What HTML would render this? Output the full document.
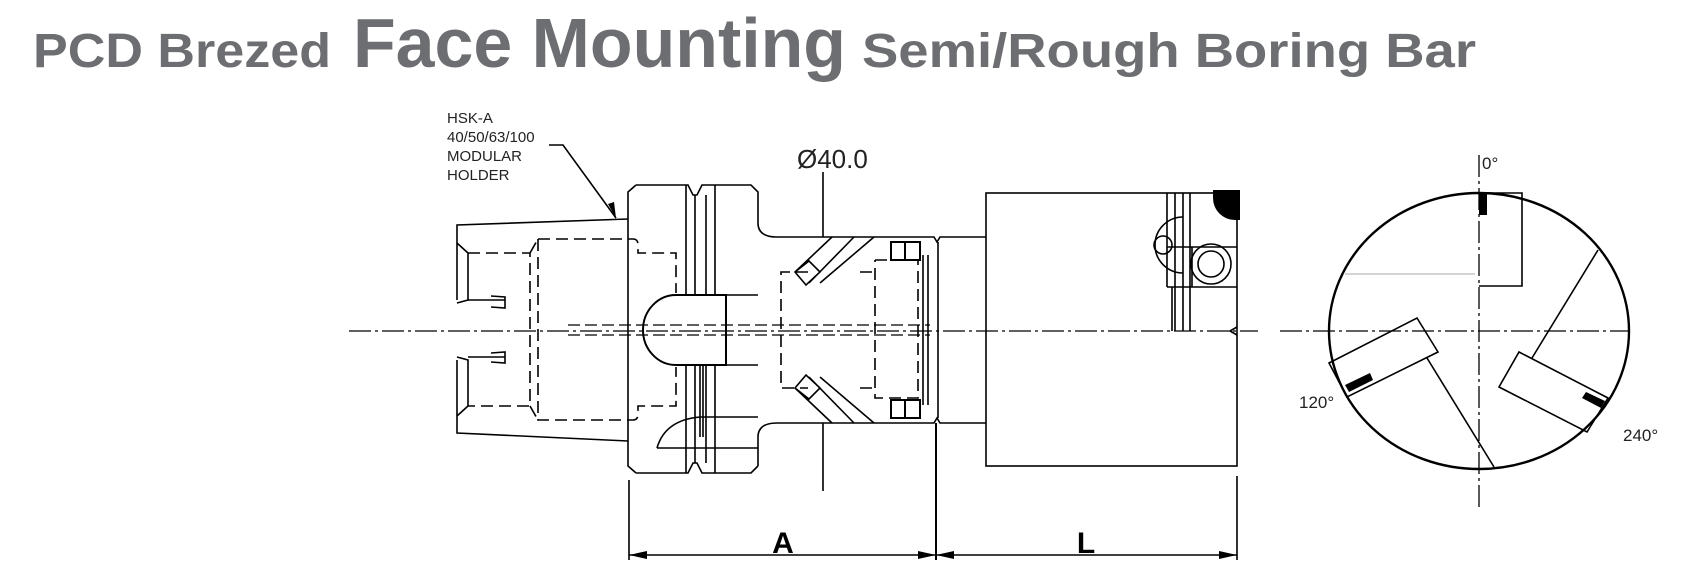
<!DOCTYPE html>
<html><head><meta charset="utf-8"><style>
html,body{margin:0;padding:0;background:#fff;}
svg{display:block;}
</style></head><body>
<svg width="1701" height="577" viewBox="0 0 1701 577" xmlns="http://www.w3.org/2000/svg">
<g font-family="'Liberation Sans', sans-serif" font-weight="bold" fill="#6d6e71">
<text x="33" y="67" font-size="48" textLength="298" lengthAdjust="spacingAndGlyphs">PCD Brezed</text>
<text x="353" y="67" font-size="70" textLength="493" lengthAdjust="spacingAndGlyphs">Face Mounting</text>
<text x="862" y="67" font-size="48" textLength="614" lengthAdjust="spacingAndGlyphs">Semi/Rough Boring Bar</text>
</g>
<g fill="none" stroke="#000" stroke-width="1.6">
<path d="M628 219 L457 225 L457 243 L468 253 L468 300 L457 303 M457 357 L468 360 L468 406 L457 416 L457 433 L628 441"/>
<path d="M457 243 L457 300 M457 360 L457 416"/>
<path d="M468 300 L505 300 M468 357 L505 357 M491 296 L505 297 L505 308 L491 307 M491 353 L505 352 L505 363 L491 362"/>
<g stroke-dasharray="12,6">
<path d="M468 253 L530 253 L530 406 L468 406"/>
<path d="M538 239 L633 239 Q638 239 638 245 L638 253 L676 253 L676 293"/>
<path d="M538 239 L538 420 L633 420 Q638 420 638 414 L638 406 L676 406 L676 367"/>
<path d="M530 253 L538 239 M530 406 L538 420"/>
</g>
<path d="M636 185 L688 185 L693 195 L697 195 L702 185 L751 185 L758 192 L758 223 Q758 237 777 237 L934 237 L937 242 L940 237 L986 237 M758 466 L758 437 Q758 423 777 423 L934 423 L937 418 L940 423 L986 423 M636 473 L688 473 L693 463 L697 463 L702 473 L751 473 L758 466 M636 185 L628 192 L628 466 L636 473"/>
<path d="M686 185 L686 295 M695 195 L695 295 M706 195 L706 295 M715 185 L715 295 M686 365 L686 473 M695 365 L695 463 M706 365 L706 463 M715 365 L715 473"/>
<path d="M700 365 L700 437 M703 365 L703 437"/>
<path d="M676 295 L726 295 L726 365 L676 365 A33 35 0 0 1 676 295 Z" stroke-width="2"/>
<path d="M726 295 L758 295 M726 365 L758 365 M938 242 L938 418"/>
<path d="M657 448 L758 448 M657 448 Q665 420 700 417 L758 417"/>
<path d="M795 272 L832 237 M809 283 L854 237 M820 283 L874 237 M795 272 L806 285 L820 272 L809 261 Z"/>
<path d="M795 388 L832 423 M809 377 L854 423 M820 377 L874 423 M795 388 L806 375 L820 388 L809 399 Z"/>
<g stroke-dasharray="12,6">
<path d="M808 272 L781 272 L781 388 L808 388"/>
<path d="M875 260 L918 260 L918 398 L875 398 L875 260"/>
<path d="M860 272 L875 272 M860 388 L875 388"/>
</g>
<path d="M891 242 H920 V260 H891 Z M905 242 V260 M891 400 H920 V418 H891 Z M905 400 V418" stroke-width="2"/>
<path d="M923 255 L923 405 M928 255 L928 405"/>
<g stroke-dasharray="12,5" stroke-width="1.3">
<path d="M568 325 L930 325 M568 335 L930 335"/>
</g>
<rect x="986" y="193" width="251" height="273"/>
<path d="M1167 193 V287 M1175 193 V331 M1183 193 V331 M1190 193 V331 M1172 287 V331"/>
<path d="M1167 247 H1237 M1167 287 H1237 M1172 247 H1192 V287"/>
<circle cx="1211" cy="264" r="20"/><circle cx="1211" cy="264" r="13"/>
<path d="M1183 217 A28 28 0 0 0 1183 273"/>
<circle cx="1163" cy="245" r="9"/>
<path d="M1237 327 L1230 331 L1237 335"/>
<path d="M823 172 V237 M823 423 V491"/>
<path d="M549 145 L563 145 L616 218"/>
<ellipse cx="1479" cy="331" rx="150" ry="138" stroke-width="2.4"/>
<path d="M1479 193 H1522 V286 H1479"/>
<path d="M1329 363 L1417 318 L1438 352 L1347 397 Z"/>
<path d="M1427 358 L1494 467"/>
<path d="M1499 387 L1519 352 L1608 398 L1587 432 Z"/>
<path d="M1532 358 L1598 250"/>
<path d="M629 480 V560 M1237 476 V560"/>
<path d="M936 423 V560" stroke-width="2"/>
<path d="M629 555 H936 M936 555 H1237"/>
</g>
<path d="M1345 274 H1475" stroke="#aaa" stroke-width="1"/>
<g fill="#000">
<path d="M1213 190 H1240 V220 H1235 A22 22 0 0 1 1213 198 Z"/>
<rect x="1479" y="193" width="8" height="22"/>
<path d="M1345 385 L1370 373 L1373 380 L1349 392 Z"/>
<path d="M1586 392 L1605 401 L1601 408 L1582 398 Z"/>
<path d="M629 555 L647 551 L647 559 Z M936 555 L918 551 L918 559 Z M936 555 L954 551 L954 559 Z M1237 555 L1219 551 L1219 559 Z M616 218 L608 204 L614 202 Z"/>
</g>
<g stroke="#000" stroke-width="1.3" stroke-dasharray="22,4,3,4" fill="none">
<path d="M349 331 H1258"/>
<path d="M1280 331 H1630"/>
<path d="M1479 155 V510"/>
</g>
<g font-family="'Liberation Sans', sans-serif" fill="#222">
<text x="447" y="123" font-size="15">HSK-A</text>
<text x="447" y="142" font-size="15">40/50/63/100</text>
<text x="447" y="161" font-size="15">MODULAR</text>
<text x="447" y="180" font-size="15">HOLDER</text>
<text x="797" y="168" font-size="26">Ø40.0</text>
<text x="1482" y="169" font-size="17">0°</text>
<text x="1299" y="408" font-size="17">120°</text>
<text x="1623" y="441" font-size="17">240°</text>
<text x="783" y="553" font-size="30" font-weight="bold" text-anchor="middle" fill="#000">A</text>
<text x="1086" y="553" font-size="30" font-weight="bold" text-anchor="middle" fill="#000">L</text>
</g>
</svg>
</body></html>
